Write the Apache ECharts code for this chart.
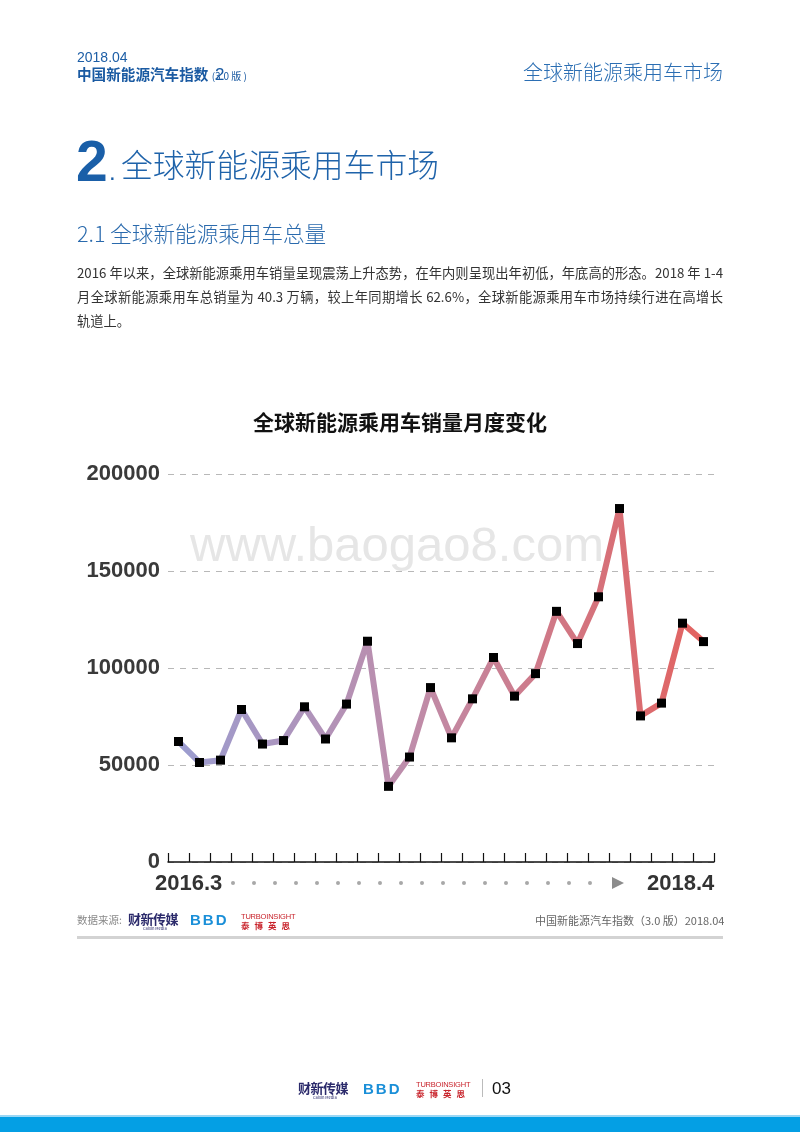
<!DOCTYPE html>
<html>
<head>
<meta charset="utf-8">
<script src="https://cdn.jsdelivr.net/npm/echarts@6/dist/echarts.min.js"></script>
<style>
  html, body { margin:0; padding:0; background:#fff; }
  #page { position:relative; width:800px; height:1132px; overflow:hidden; background:#fff;
          font-family:"Noto Sans CJK SC","Noto Sans",sans-serif; }
  #chart { position:absolute; left:0; top:0; width:800px; height:1132px; z-index:1; }
  .t { position:absolute; z-index:2; white-space:nowrap; line-height:1; }
  .para { position:absolute; left:77px; width:646px; z-index:2; font-size:13.25px; color:#333;
          text-align:justify; text-align-last:justify; line-height:1; white-space:nowrap; }
  .para.last { text-align-last:left; }
</style>
</head>
<body>
<div id="page">
  <div id="chart"></div>

  <!-- header -->
  <div class="t" style="left:77px;top:50px;font-size:14px;color:#1d5ea6;font-family:'Liberation Sans',Arial,sans-serif;">2018.04</div>
  <div class="t" style="left:77px;top:67px;font-size:14.6px;color:#1a5aa2;font-weight:bold;">中国新能源汽车指数 <span style="font-weight:normal;font-size:10px;">(3.0 版 )</span></div>
  <div class="t" style="left:215px;top:66px;font-size:17px;color:#1a5aa2;font-family:'Liberation Sans',Arial,sans-serif;">2</div>
  <div class="t" style="left:523px;top:62px;font-size:20px;color:#2b6eb3;font-weight:300;">全球新能源乘用车市场</div>

  <!-- section title -->
  <div class="t" style="left:76px;top:133px;font-size:57px;color:#1a5fa8;font-weight:bold;font-family:'Liberation Sans',Arial,sans-serif;">2</div>
  <div class="t" style="left:109px;top:160px;font-size:24px;color:#1a5fa8;font-family:'Liberation Sans',Arial,sans-serif;">.</div>
  <div class="t" style="left:121px;top:148px;font-size:31.8px;color:#1f63aa;font-weight:300;">全球新能源乘用车市场</div>

  <div class="t" style="left:77px;top:222px;font-size:21.6px;color:#2a6aad;font-weight:300;">2.1 全球新能源乘用车总量</div>

  <div class="para" style="top:266px;">2016 年以来，全球新能源乘用车销量呈现震荡上升态势，在年内则呈现出年初低，年底高的形态。2018 年 1-4</div>
  <div class="para" style="top:290px;">月全球新能源乘用车总销量为 40.3 万辆，较上年同期增长 62.6%，全球新能源乘用车市场持续行进在高增长</div>
  <div class="para last" style="top:314px;">轨道上。</div>

  <!-- footer under chart -->
  <div class="t" style="left:77px;top:915px;font-size:10.5px;color:#8a8a8a;">数据来源:</div>
  <div class="t" style="left:128px;top:912px;font-size:13px;color:#2b2a6b;font-weight:bold;letter-spacing:-0.5px;">财新传媒</div>
  <div class="t" style="left:143px;top:926px;font-size:4px;color:#2b2a6b;">Caixin Media</div>
  <div class="t" style="left:190px;top:912px;font-size:15px;color:#1a8fd8;font-weight:900;font-family:'Liberation Sans',Arial,sans-serif;letter-spacing:2px;">BBD</div>
  <div class="t" style="left:241px;top:913px;font-size:7.5px;color:#c8232b;font-family:'Liberation Sans',Arial,sans-serif;letter-spacing:-0.2px;">TURBOINSIGHT</div>
  <div class="t" style="left:241px;top:921px;font-size:8.5px;color:#c8232b;font-weight:bold;letter-spacing:5px;">泰博英思</div>
  <div class="t" style="left:535px;top:915px;font-size:11px;color:#666;">中国新能源汽车指数（3.0 版）2018.04</div>
  <div style="position:absolute;left:77px;top:936px;width:646px;height:3px;background:#d3d3d3;z-index:2;"></div>

  <!-- bottom -->
  <div class="t" style="left:298px;top:1081px;font-size:13px;color:#2b2a6b;font-weight:bold;letter-spacing:-0.5px;">财新传媒</div>
  <div class="t" style="left:313px;top:1095px;font-size:4px;color:#2b2a6b;">Caixin Media</div>
  <div class="t" style="left:363px;top:1081px;font-size:15px;color:#1a8fd8;font-weight:900;font-family:'Liberation Sans',Arial,sans-serif;letter-spacing:2px;">BBD</div>
  <div class="t" style="left:416px;top:1081px;font-size:7.5px;color:#c8232b;font-family:'Liberation Sans',Arial,sans-serif;letter-spacing:-0.2px;">TURBOINSIGHT</div>
  <div class="t" style="left:416px;top:1089px;font-size:8.5px;color:#c8232b;font-weight:bold;letter-spacing:5px;">泰博英思</div>
  <div style="position:absolute;left:482px;top:1079px;width:1px;height:18px;background:#bbb;z-index:2;"></div>
  <div class="t" style="left:492px;top:1080px;font-size:17px;color:#111;font-family:'Liberation Sans',Arial,sans-serif;">03</div>
  <div style="position:absolute;left:0;top:1115px;width:800px;height:2px;background:#9ad7f5;z-index:2;"></div>
  <div style="position:absolute;left:0;top:1117px;width:800px;height:15px;background:#049fe4;z-index:2;"></div>
</div>

<script>
// ---- data ----
const categories = ['2016.3','2016.4','2016.5','2016.6','2016.7','2016.8','2016.9','2016.10','2016.11','2016.12',
  '2017.1','2017.2','2017.3','2017.4','2017.5','2017.6','2017.7','2017.8','2017.9','2017.10','2017.11','2017.12',
  '2018.1','2018.2','2018.3','2018.4'];
const sales = [62100, 51300, 52500, 78600, 60800, 62600, 80000, 63400, 81400, 113800,
  39000, 54100, 89900, 64000, 84100, 105400, 85500, 97100, 129200, 112600, 136700, 182200,
  75300, 81900, 123100, 113600];
const yTicks = { min: 0, max: 200000, interval: 50000 };
const chartTitle = '全球新能源乘用车销量月度变化';
const watermark = 'www.baogao8.com';

const chart = echarts.init(document.getElementById('chart'), null, { renderer: 'canvas' });

// decorative dotted arrow along the x axis
const deco = [];
for (let i = 0; i < 18; i++) {
  deco.push({ type: 'circle', shape: { cx: 233 + 21 * i, cy: 883, r: 2 }, style: { fill: '#a8a8a8' }, silent: true });
}
deco.push({ type: 'polygon', shape: { points: [[612, 877], [624, 883], [612, 889]] }, style: { fill: '#8c8c8c' }, silent: true });
deco.push({ type: 'text', left: 155, top: 873, style: { text: categories[0], font: 'bold 22px "Liberation Sans", Arial, sans-serif', fill: '#333' } });
deco.push({ type: 'text', left: 647, top: 873, style: { text: categories[categories.length - 1], font: 'bold 22px "Liberation Sans", Arial, sans-serif', fill: '#333' } });
deco.push({ type: 'text', left: 190, top: 523, z: -10, style: { text: watermark, font: '49px "Liberation Sans", Arial, sans-serif', fill: '#e6e6e6' }, silent: true });

chart.setOption({
  animation: false,
  title: {
    text: chartTitle, left: 'center', top: 407,
    textStyle: { fontSize: 21, fontWeight: 'bold', color: '#111', fontFamily: '"Noto Sans CJK SC", sans-serif' }
  },
  graphic: deco,
  grid: { left: 168, right: 86, top: 474, bottom: 270 },
  xAxis: {
    type: 'category', data: categories, boundaryGap: true,
    axisLine: { lineStyle: { color: '#111', width: 1.5 } },
    axisTick: { show: true, inside: true, length: 9, interval: 0, lineStyle: { color: '#111', width: 1.2 } },
    axisLabel: { show: false },
    splitLine: { show: false }
  },
  yAxis: {
    type: 'value', min: yTicks.min, max: yTicks.max, interval: yTicks.interval,
    axisLine: { show: false }, axisTick: { show: false },
    axisLabel: { margin: 8, fontSize: 22, fontWeight: 'bold', color: '#3a3a3a',
      fontFamily: '"Liberation Sans", Arial, sans-serif', formatter: v => String(v) },
    splitLine: { show: true, lineStyle: { type: [6, 6], color: '#b8b8b8', width: 1 } }
  },
  series: [{
    type: 'line', data: sales, z: 5,
    symbol: 'rect', symbolSize: 9, showSymbol: true,
    itemStyle: { color: '#000' },
    lineStyle: {
      width: 6,
      color: new echarts.graphic.LinearGradient(0, 0, 1, 0, [
        { offset: 0, color: '#9b9dd0' },
        { offset: 0.45, color: '#bf8ca9' },
        { offset: 1, color: '#e3625f' }
      ])
    }
  }]
});
</script>
</body>
</html>
